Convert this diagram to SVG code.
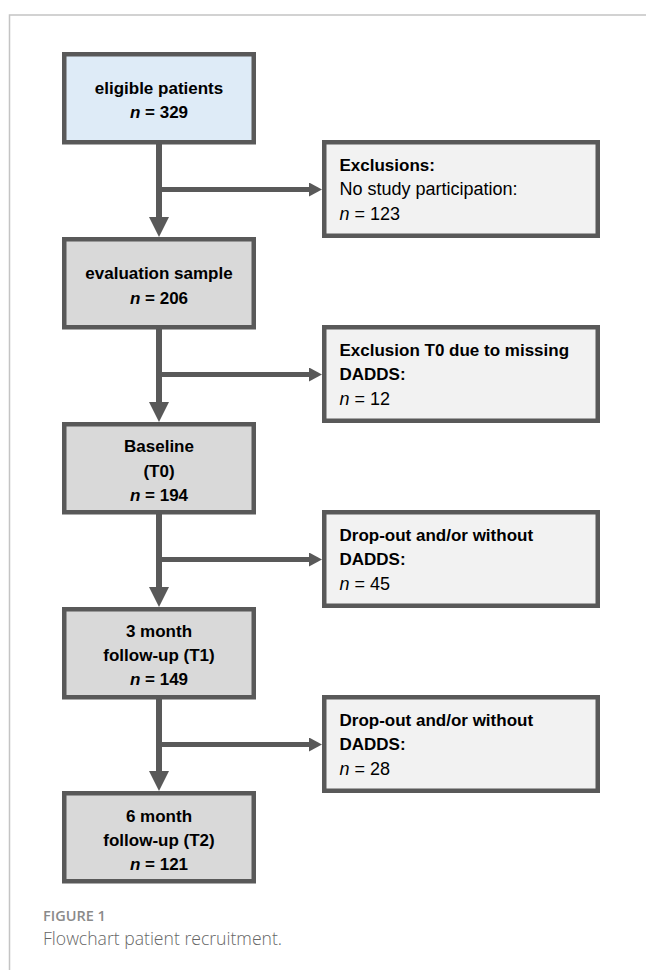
<svg xmlns="http://www.w3.org/2000/svg" width="646" height="970" viewBox="0 0 646 970">
<style>
.frame{fill:none;stroke:#c4c4c4;stroke-width:1.5}
.box{stroke:#595959;stroke-width:4.5}
.main{fill:#d9d9d9}
.first{fill:#deebf7}
.excl{fill:#f2f2f2}
.conV{fill:none;stroke:#595959;stroke-width:6}
.conH{fill:none;stroke:#595959;stroke-width:5}
text{font-family:"Liberation Sans",Arial,sans-serif;fill:#000}
.b{font-size:17px;font-weight:bold}
.c{text-anchor:middle}
.r{font-size:18px}
.cap1{font-family:"Open Sans","Liberation Sans",sans-serif;font-size:14.5px;font-weight:600;fill:#8a8a8a}
.cap2{font-family:"Open Sans","Liberation Sans",sans-serif;font-size:17.6px;font-weight:300;fill:#666}
</style>
<defs>
<marker id="arrV" markerUnits="userSpaceOnUse" markerWidth="20" markerHeight="20" viewBox="0 0 20 20" refX="3" refY="10" orient="auto">
<path d="M0,0 L20,10 L0,20 z" fill="#595959"/>
</marker>
<marker id="arrH" markerUnits="userSpaceOnUse" markerWidth="13" markerHeight="14" viewBox="0 0 13 14" refX="3" refY="7" orient="auto">
<path d="M0,0 L13,7 L0,14 z" fill="#595959"/>
</marker>
</defs>
<rect width="646" height="970" fill="#fff"/>
<path class="frame" d="M646,15 H9.5 V970"/>

<g id="connectors">
<path class="conV" d="M159,144 V220" marker-end="url(#arrV)"/>
<path class="conH" d="M159,189.5 H312" marker-end="url(#arrH)"/>
<path class="conV" d="M159,329 V405" marker-end="url(#arrV)"/>
<path class="conH" d="M159,374.5 H312" marker-end="url(#arrH)"/>
<path class="conV" d="M159,514 V590" marker-end="url(#arrV)"/>
<path class="conH" d="M159,559.5 H312" marker-end="url(#arrH)"/>
<path class="conV" d="M159,699 V774" marker-end="url(#arrV)"/>
<path class="conH" d="M159,744.5 H312" marker-end="url(#arrH)"/>
</g>

<g id="eligible">
<rect class="box first" x="64.25" y="54.25" width="189.5" height="88"/>
<text class="b c" x="159" y="93.5">eligible patients</text>
<text class="b c" x="159" y="118"><tspan font-style="italic">n</tspan> = 329</text>
</g>

<g id="exclusions">
<rect class="box excl" x="324.25" y="142.25" width="273.5" height="93.5"/>
<text class="b" x="339.5" y="170.8">Exclusions:</text>
<text class="r" x="339.5" y="195.2">No study participation:</text>
<text class="r" x="339.5" y="219.5"><tspan font-style="italic">n</tspan> = 123</text>
</g>

<g id="evaluation">
<rect class="box main" x="64.25" y="239.25" width="189.5" height="88"/>
<text class="b c" x="159" y="279">evaluation sample</text>
<text class="b c" x="159" y="303.5"><tspan font-style="italic">n</tspan> = 206</text>
</g>

<g id="exclusionT0">
<rect class="box excl" x="324.25" y="327.25" width="273.5" height="93.5"/>
<text class="b" x="339.5" y="355.8">Exclusion T0 due to missing</text>
<text class="b" x="339.5" y="380.2">DADDS:</text>
<text class="r" x="339.5" y="404.5"><tspan font-style="italic">n</tspan> = 12</text>
</g>

<g id="baseline">
<rect class="box main" x="64.25" y="424.25" width="189.5" height="88"/>
<text class="b c" x="159" y="452.3">Baseline</text>
<text class="b c" x="159" y="476.6">(T0)</text>
<text class="b c" x="159" y="500.5"><tspan font-style="italic">n</tspan> = 194</text>
</g>

<g id="dropout1">
<rect class="box excl" x="324.25" y="512.25" width="273.5" height="93.5"/>
<text class="b" x="339.5" y="540.8">Drop-out and/or without</text>
<text class="b" x="339.5" y="565.2">DADDS:</text>
<text class="r" x="339.5" y="589.5"><tspan font-style="italic">n</tspan> = 45</text>
</g>

<g id="followup1">
<rect class="box main" x="64.25" y="609.25" width="189.5" height="88"/>
<text class="b c" x="159" y="637.3">3 month</text>
<text class="b c" x="159" y="661.3">follow-up (T1)</text>
<text class="b c" x="159" y="685"><tspan font-style="italic">n</tspan> = 149</text>
</g>

<g id="dropout2">
<rect class="box excl" x="324.25" y="697.25" width="273.5" height="93.5"/>
<text class="b" x="339.5" y="725.8">Drop-out and/or without</text>
<text class="b" x="339.5" y="750.2">DADDS:</text>
<text class="r" x="339.5" y="774.5"><tspan font-style="italic">n</tspan> = 28</text>
</g>

<g id="followup2">
<rect class="box main" x="64.25" y="793.25" width="189.5" height="88"/>
<text class="b c" x="159" y="821.5">6 month</text>
<text class="b c" x="159" y="845.8">follow-up (T2)</text>
<text class="b c" x="159" y="869.5"><tspan font-style="italic">n</tspan> = 121</text>
</g>

<g id="caption">
<text class="cap1" x="43" y="921">FIGURE 1</text>
<text class="cap2" x="43" y="945">Flowchart patient recruitment.</text>
</g>
</svg>
